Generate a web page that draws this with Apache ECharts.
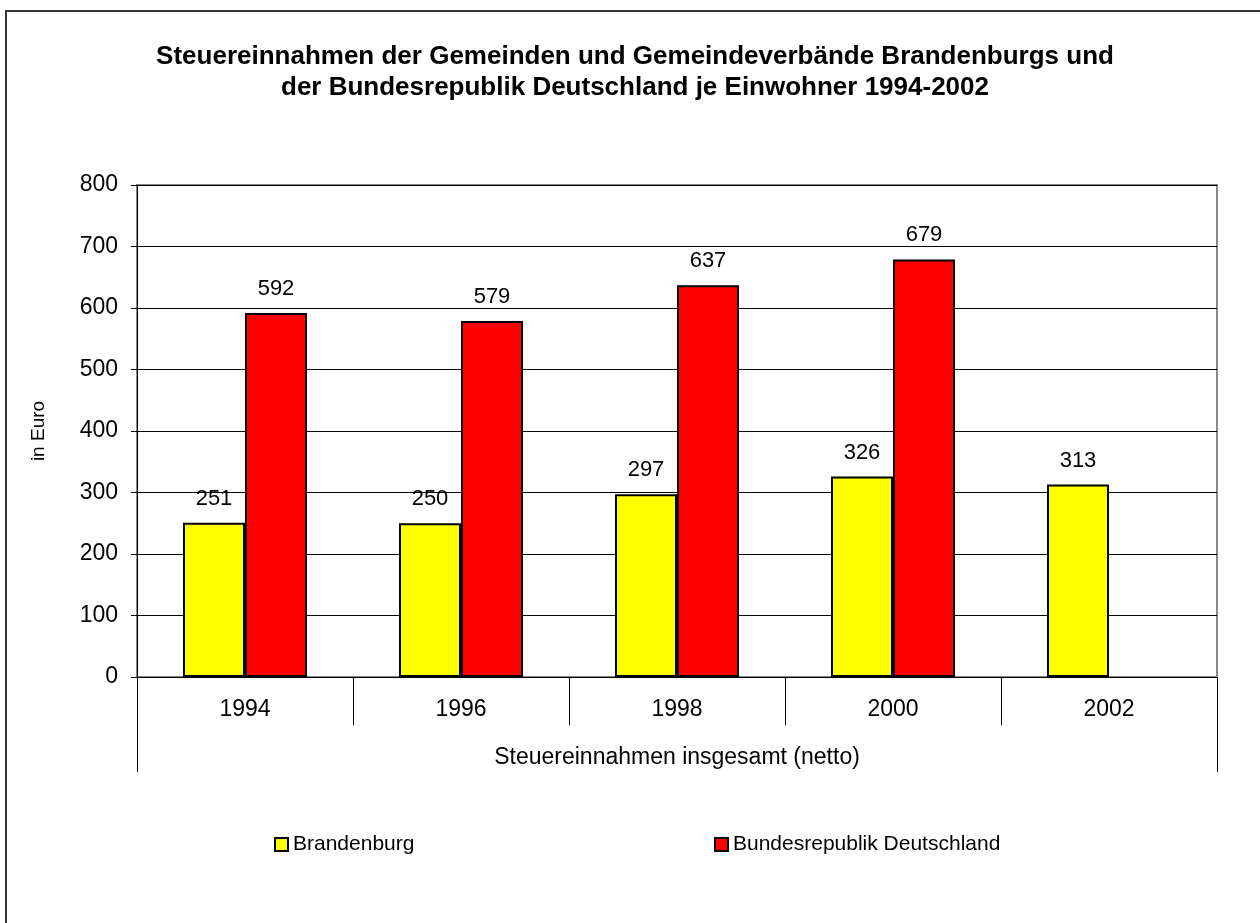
<!DOCTYPE html>
<html>
<head>
<meta charset="utf-8">
<script src="https://cdn.jsdelivr.net/npm/echarts@6/dist/echarts.min.js"></script>
<style>
  html, body { margin: 0; padding: 0; background: #fff; }
  #chart { width: 1260px; height: 923px; }
</style>
</head>
<body>
<div id="chart"></div>
<script>
// Jahre und Werte (Euro je Einwohner)
const years = ['1994', '1996', '1998', '2000', '2002'];
const brandenburg = [251, 250, 297, 326, 313];
const bundesrepublik = [592, 579, 637, 679, null];
const groupLabel = ['Steuereinnahmen insgesamt (netto)'];

const font = 'Liberation Sans, Arial, sans-serif';

let myChart = echarts.init(document.getElementById('chart'));

let option = {
    backgroundColor: '#fff',
    animation: false,
    textStyle: { fontFamily: font },
    title: {
        text: 'Steuereinnahmen der Gemeinden und Gemeindeverbände Brandenburgs und\nder Bundesrepublik Deutschland je Einwohner 1994-2002',
        left: 630,
        textAlign: 'center',
        top: 36,
        textStyle: { fontSize: 26, fontWeight: 'bold', color: '#000', lineHeight: 31, fontFamily: font }
    },
    legend: [
        {
            data: ['Brandenburg'],
            left: 274,
            top: 834,
            padding: 0,
            icon: 'rect',
            itemWidth: 13,
            itemHeight: 13,
            textStyle: { fontSize: 21, color: '#000' }
        },
        {
            data: ['Bundesrepublik Deutschland'],
            left: 714,
            top: 834,
            padding: 0,
            icon: 'rect',
            itemWidth: 13,
            itemHeight: 13,
            textStyle: { fontSize: 21, color: '#000' }
        }
    ],
    grid: {
        left: 137,
        right: 43,
        top: 185,
        bottom: 246,
        show: true,
        borderColor: '#888',
        borderWidth: 2
    },
    xAxis: [
        {
            type: 'category',
            data: years,
            position: 'bottom',
            axisLine: { lineStyle: { color: '#000', width: 1 } },
            axisTick: { show: true, length: 48, interval: 0, lineStyle: { color: '#000' } },
            axisLabel: { fontSize: 23, color: '#000', margin: 21 }
        },
        {
            type: 'category',
            data: groupLabel,
            position: 'bottom',
            axisLine: { show: false },
            axisTick: { show: true, length: 95, lineStyle: { color: '#000' } },
            axisLabel: { fontSize: 23, color: '#000', margin: 69 }
        }
    ],
    yAxis: {
        type: 'value',
        min: 0,
        max: 800,
        interval: 100,
        name: 'in Euro',
        nameLocation: 'middle',
        nameGap: 89,
        nameTextStyle: { fontSize: 19, color: '#000' },
        axisLine: { show: true, lineStyle: { color: '#000' } },
        axisTick: { show: true, length: 6, lineStyle: { color: '#000' } },
        axisLabel: { fontSize: 23, color: '#000', margin: 19 },
        splitLine: { lineStyle: { color: '#000', width: 1 } }
    },
    series: [
        {
            name: 'Brandenburg',
            type: 'bar',
            data: brandenburg,
            barWidth: 62,
            barGap: '0%',
            itemStyle: { color: '#ffff00', borderColor: '#000', borderWidth: 2 },
            label: { show: true, position: 'top', distance: 13, fontSize: 22, color: '#000' }
        },
        {
            name: 'Bundesrepublik Deutschland',
            type: 'bar',
            data: bundesrepublik,
            barWidth: 62,
            barGap: '0%',
            itemStyle: { color: '#ff0000', borderColor: '#000', borderWidth: 2 },
            label: { show: true, position: 'top', distance: 13, fontSize: 22, color: '#000' }
        }
    ],
    graphic: [
        {
            type: 'rect',
            shape: { x: 6, y: 11, width: 1270, height: 930 },
            style: { fill: 'none', stroke: '#333', lineWidth: 2 },
            silent: true
        }
    ]
};

myChart.setOption(option);
</script>
</body>
</html>
